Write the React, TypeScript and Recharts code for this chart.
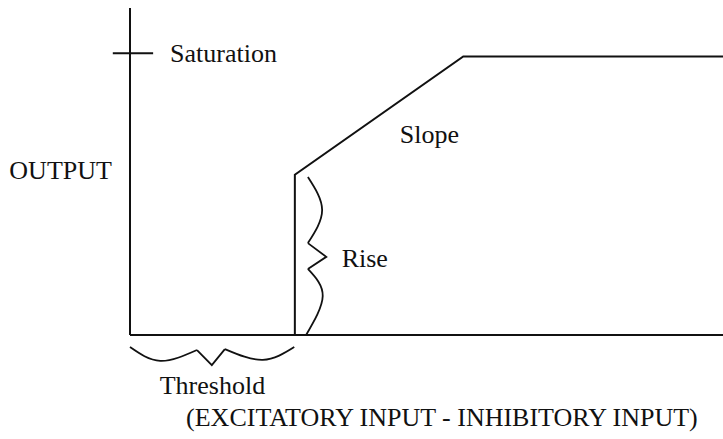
import { Line, LineChart, ReferenceDot, ReferenceLine, XAxis, YAxis } from 'recharts';

// transfer curve: threshold, rise, slope, saturation plateau
const inputs = [0, 27.8, 27.8, 56.2, 100];
const outputs = [0, 0, 49, 85.2, 85.2];

const saturationLevel = 86.2;
const saturationTickSpan = [-2.9, 3.9];

// "Rise" brace (vertical, next to the jump)
const riseUpperX = [30.0, 32.4, 30.0];
const riseUpperY = [48.3, 38.2, 28.1];
const riseTipX = [30.0, 33.1, 30.0];
const riseTipY = [28.1, 23.9, 20.2];
const riseLowerX = [30.0, 32.5, 29.7];
const riseLowerY = [20.2, 11.9, 0];

// "Threshold" brace (horizontal, under the axis)
const threshLeftX = [0, 5.1, 11.3];
const threshLeftY = [-3.7, -7.9, -4.6];
const threshTipX = [11.3, 13.8, 16.0];
const threshTipY = [-4.6, -9.2, -4.3];
const threshRightX = [16.0, 22.4, 27.7];
const threshRightY = [-4.3, -7.6, -3.7];

const labelTexts = [
  'Saturation',
  'OUTPUT',
  'Slope',
  'Rise',
  'Threshold',
  '(EXCITATORY INPUT - INHIBITORY INPUT)',
];
const labelX = [6.75, -11.7, 45.5, 35.7, 13.9, 52.6];
const labelY = [83.6, 47.7, 58.8, 20.9, -18.0, -27.8];

const anchors: Record<string, 'start' | 'middle'> = {
  Saturation: 'start',
  OUTPUT: 'middle',
  Slope: 'start',
  Rise: 'start',
  Threshold: 'middle',
  '(EXCITATORY INPUT - INHIBITORY INPUT)': 'middle',
};

const toPoints = (xs: number[], ys: number[]) => xs.map((x, i) => ({ x, y: ys[i] }));

const INK = '#111';
const FONT = "'Liberation Serif', 'DejaVu Serif', serif";

const braces = [
  { key: 'riseUpper', data: toPoints(riseUpperX, riseUpperY), type: 'natural' },
  { key: 'riseTip', data: toPoints(riseTipX, riseTipY), type: 'linear' },
  { key: 'riseLower', data: toPoints(riseLowerX, riseLowerY), type: 'natural' },
  { key: 'threshLeft', data: toPoints(threshLeftX, threshLeftY), type: 'natural' },
  { key: 'threshTip', data: toPoints(threshTipX, threshTipY), type: 'linear' },
  { key: 'threshRight', data: toPoints(threshRightX, threshRightY), type: 'natural' },
] as const;

export default function App() {
  return (
    <div style={{ position: 'absolute', left: 0, top: 0, background: '#fff' }}>
      <LineChart width={723} height={439} margin={{ top: 8, right: 0, bottom: 64.76, left: 130 }}>
        <XAxis type='number' dataKey='x' domain={[0, 100]} hide />
        <YAxis type='number' dataKey='y' domain={[-12, 100]} hide />

        {/* axes drawn as plain lines so they stop at the origin */}
        <ReferenceLine
          segment={[{ x: 0, y: 0 }, { x: 0, y: 100 }]}
          stroke={INK}
          strokeWidth={2}
          ifOverflow='visible'
        />
        <ReferenceLine
          segment={[{ x: 0, y: 0 }, { x: 100, y: 0 }]}
          stroke={INK}
          strokeWidth={2}
          ifOverflow='visible'
        />
        <ReferenceLine
          segment={[
            { x: saturationTickSpan[0], y: saturationLevel },
            { x: saturationTickSpan[1], y: saturationLevel },
          ]}
          stroke={INK}
          strokeWidth={2}
          ifOverflow='visible'
        />

        <Line
          data={toPoints(inputs, outputs)}
          dataKey='y'
          type='linear'
          stroke={INK}
          strokeWidth={2}
          dot={false}
          isAnimationActive={false}
        />

        {braces.map((b) => (
          <Line
            key={b.key}
            name={b.key}
            data={b.data}
            dataKey='y'
            type={b.type}
            stroke={INK}
            strokeWidth={1.8}
            dot={false}
            isAnimationActive={false}
          />
        ))}

        {labelTexts.map((t, i) => (
          <ReferenceDot
            key={t}
            x={labelX[i]}
            y={labelY[i]}
            r={0}
            ifOverflow='visible'
            shape={(p: any) => (
              <text
                x={p.cx}
                y={p.cy}
                textAnchor={anchors[t]}
                fontFamily={FONT}
                fontSize={26}
                fill={INK}
              >
                {t}
              </text>
            )}
          />
        ))}
      </LineChart>
    </div>
  );
}
